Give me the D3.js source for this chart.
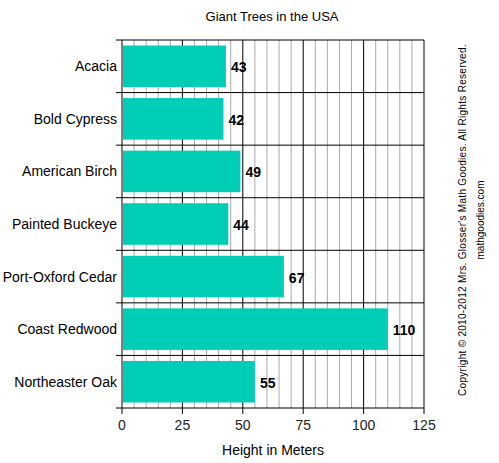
<!DOCTYPE html>
<html>
<head>
<meta charset="utf-8">
<script src="https://cdn.jsdelivr.net/npm/d3@7"></script>
<style>
body { margin: 0; background: #fff; }
text { font-family: "Liberation Sans", Arial, sans-serif; }
</style>
</head>
<body>
<div id="chart"></div>
<script>
// tree names and heights
var trees = ["Acacia", "Bold Cypress", "American Birch", "Painted Buckeye", "Port-Oxford Cedar", "Coast Redwood", "Northeaster Oak"];
var heights = [43, 42, 49, 44, 67, 110, 55];
var xTicks = [0, 25, 50, 75, 100, 125];

var width = 499, height = 463;
var plotLeft = 122, plotRight = 424, plotTop = 40, plotBottom = 408;

var svg = d3.select("#chart").append("svg")
  .attr("width", width)
  .attr("height", height);

var xScale = d3.scaleLinear().domain([0, 125]).range([plotLeft, plotRight]);
var yScale = d3.scaleBand().domain(trees).range([plotTop, plotBottom]).paddingInner(0.21).paddingOuter(0.105);
var rowScale = d3.scaleBand().domain(trees).range([plotTop, plotBottom]);

// minor gridlines every 5
svg.append("g").selectAll("line")
  .data(d3.range(5, 125, 5).filter(function(d) { return d % 25 != 0; }))
  .enter().append("line")
  .attr("x1", function(d) { return xScale(d); })
  .attr("x2", function(d) { return xScale(d); })
  .attr("y1", plotTop).attr("y2", plotBottom)
  .attr("stroke", "#aaa").attr("stroke-width", 1);

// major gridlines
svg.append("g").selectAll("line")
  .data(xTicks)
  .enter().append("line")
  .attr("x1", function(d) { return xScale(d); })
  .attr("x2", function(d) { return xScale(d); })
  .attr("y1", plotTop).attr("y2", plotBottom + 6)
  .attr("stroke", "#000").attr("stroke-width", 1);

// row boundaries
var bounds = trees.map(function(d) { return rowScale(d); }).concat([plotBottom]);
svg.append("g").selectAll("line")
  .data(bounds)
  .enter().append("line")
  .attr("x1", plotLeft - 6).attr("x2", plotRight)
  .attr("y1", function(d) { return d; })
  .attr("y2", function(d) { return d; })
  .attr("stroke", "#000").attr("stroke-width", 1);

// bars
svg.append("g").selectAll("rect")
  .data(trees)
  .enter().append("rect")
  .attr("x", xScale(0) + 1)
  .attr("y", function(d) { return yScale(d); })
  .attr("width", function(d, i) { return xScale(heights[i]) - xScale(0) - 1; })
  .attr("height", yScale.bandwidth())
  .attr("fill", "#00CDB6");

// value labels
svg.append("g").selectAll("text")
  .data(trees)
  .enter().append("text")
  .attr("x", function(d, i) { return xScale(heights[i]) + 5; })
  .attr("y", function(d) { return yScale(d) + yScale.bandwidth() / 2 + 6; })
  .attr("font-size", 14).attr("font-weight", "bold")
  .text(function(d, i) { return heights[i]; });

// category labels
svg.append("g").selectAll("text")
  .data(trees)
  .enter().append("text")
  .attr("x", plotLeft - 5)
  .attr("y", function(d) { return rowScale(d) + rowScale.bandwidth() / 2 + 5; })
  .attr("text-anchor", "end")
  .attr("font-size", 14)
  .text(function(d) { return d; });

// x tick labels
svg.append("g").selectAll("text")
  .data(xTicks)
  .enter().append("text")
  .attr("x", function(d) { return xScale(d); })
  .attr("y", plotBottom + 22)
  .attr("text-anchor", "middle")
  .attr("font-size", 14)
  .attr("fill", "#222")
  .text(function(d) { return d; });

svg.append("text")
  .attr("x", (plotLeft + plotRight) / 2).attr("y", 455)
  .attr("text-anchor", "middle").attr("font-size", 14)
  .text("Height in Meters");

svg.append("text")
  .attr("x", 272).attr("y", 21)
  .attr("text-anchor", "middle").attr("font-size", 13)
  .text("Giant Trees in the USA");

// copyright
svg.append("text")
  .attr("transform", "translate(466,220) rotate(-90)")
  .attr("text-anchor", "middle").attr("font-size", 10)
  .attr("letter-spacing", 0.3)
  .text("Copyright \u00A9 2010-2012 Mrs. Glosser's Math Goodies. All Rights Reserved.");
svg.append("text")
  .attr("transform", "translate(484,220) rotate(-90)")
  .attr("text-anchor", "middle").attr("font-size", 10)
  .text("mathgoodies.com");
</script>
</body>
</html>
